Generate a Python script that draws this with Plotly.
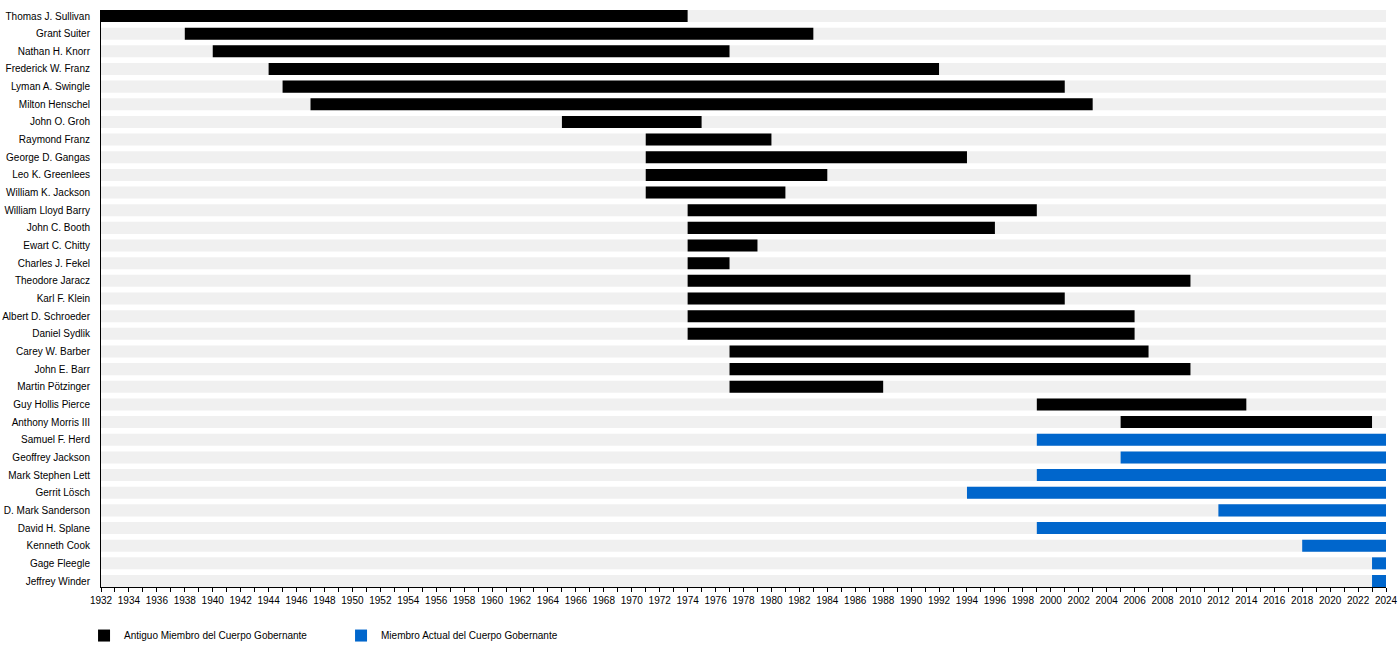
import plotly.graph_objects as go

names = ["Thomas J. Sullivan", "Grant Suiter", "Nathan H. Knorr", "Frederick W. Franz",
         "Lyman A. Swingle", "Milton Henschel", "John O. Groh", "Raymond Franz",
         "George D. Gangas", "Leo K. Greenlees", "William K. Jackson", "William Lloyd Barry",
         "John C. Booth", "Ewart C. Chitty", "Charles J. Fekel", "Theodore Jaracz",
         "Karl F. Klein", "Albert D. Schroeder", "Daniel Sydlik", "Carey W. Barber",
         "John E. Barr", "Martin Pötzinger", "Guy Hollis Pierce", "Anthony Morris III",
         "Samuel F. Herd", "Geoffrey Jackson", "Mark Stephen Lett", "Gerrit Lösch",
         "D. Mark Sanderson", "David H. Splane", "Kenneth Cook", "Gage Fleegle",
         "Jeffrey Winder"]
start_years = [1932, 1938, 1940, 1944, 1945, 1947, 1965, 1971, 1971, 1971, 1971, 1974,
               1974, 1974, 1974, 1974, 1974, 1974, 1974, 1977, 1977, 1977, 1999, 2005,
               1999, 2005, 1999, 1994, 2012, 1999, 2018, 2023, 2023]
end_years = [1974, 1983, 1977, 1992, 2001, 2003, 1975, 1980, 1994, 1984, 1981, 1999,
             1996, 1979, 1977, 2010, 2001, 2006, 2006, 2007, 2010, 1988, 2014, 2023,
             2024, 2024, 2024, 2024, 2024, 2024, 2024, 2024, 2024]
is_current = [False] * 24 + [True] * 9

axis_start, axis_end = 1932, 2024
label_former = "Antiguo Miembro del Cuerpo Gobernante"
label_current = "Miembro Actual del Cuerpo Gobernante"

FONT = "Liberation Sans, Arial, sans-serif"
BAR_W = 0.68

fig = go.Figure()

# background rows
fig.add_trace(go.Bar(
    y=names, x=[axis_end - axis_start] * len(names), base=[axis_start] * len(names),
    orientation="h", marker=dict(color="#f0f0f0", line=dict(width=0)),
    width=BAR_W, showlegend=False, hoverinfo="skip"))

for flag, label, color in [(False, label_former, "#000000"), (True, label_current, "#0066cc")]:
    ys = [n for n, c in zip(names, is_current) if c == flag]
    bs = [s for s, c in zip(start_years, is_current) if c == flag]
    ws = [e - s for s, e, c in zip(start_years, end_years, is_current) if c == flag]
    fig.add_trace(go.Bar(
        y=ys, x=ws, base=bs, orientation="h", name=label,
        marker=dict(color=color, line=dict(width=0)), width=BAR_W))

n = len(names)
fig.update_layout(
    width=1400, height=646,
    barmode="overlay",
    plot_bgcolor="white", paper_bgcolor="white",
    margin=dict(l=101, r=14, t=10, b=59, autoexpand=False),
    font=dict(family=FONT, size=10, color="#000000"),
    showlegend=True,
    legend=dict(orientation="h", x=-0.0132, xanchor="left", y=-0.059, yanchor="top",
                xref="paper", yref="paper",
                font=dict(size=10), entrywidth=212, entrywidthmode="pixels",
                traceorder="normal", itemclick=False),
    xaxis=dict(range=[axis_start, axis_end], dtick=2, tick0=1932,
               showgrid=False, zeroline=False, automargin=False,
               showline=True, linecolor="black", linewidth=1,
               ticks="outside", ticklen=4, tickcolor="black",
               minor=dict(dtick=1, ticks="outside", ticklen=4, tickcolor="black", showgrid=False),
               tickfont=dict(size=10), fixedrange=True),
    yaxis=dict(categoryorder="array", categoryarray=names,
               range=[n - 1 + BAR_W / 2, -BAR_W / 2],
               showgrid=False, zeroline=False, automargin=False,
               showline=True, linecolor="black", linewidth=1,
               ticks="", ticklabelstandoff=8, tickfont=dict(size=10), fixedrange=True),
)

fig.write_html("out.html", config={"displayModeBar": False},
               post_script="document.body.style.margin='0px';")
